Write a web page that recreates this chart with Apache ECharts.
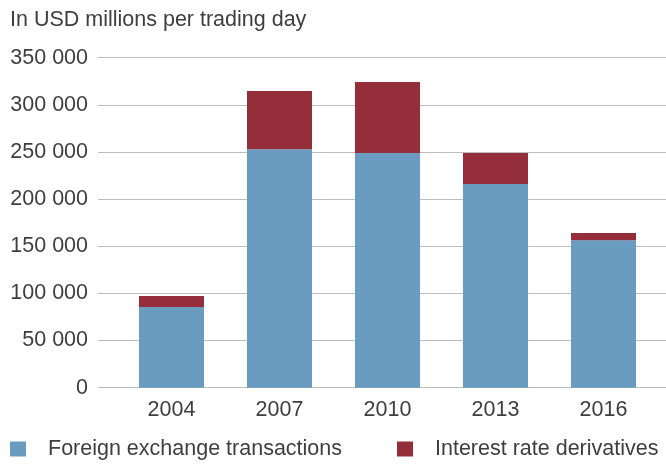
<!DOCTYPE html>
<html>
<head>
<meta charset="utf-8">
<script src="https://cdn.jsdelivr.net/npm/echarts@6/dist/echarts.min.js"></script>
<style>
html,body{margin:0;padding:0;background:#fff;}
#chart{width:666px;height:465px;}
</style>
</head>
<body>
<div id="chart"></div>
<script>
var years = ["2004", "2007", "2010", "2013", "2016"];
var fxValues = [85500, 253000, 249000, 216000, 156500];
var irdValues = [11800, 61700, 75200, 32900, 7600];
var yTicks = { min: 0, max: 350000, step: 50000 };
var seriesNames = ["Foreign exchange transactions", "Interest rate derivatives"];

var FONT = "Liberation Sans";
var FS = 21.5;
var TEXT = "#3e3e3e";
var BLUE = "#6a9bc0";
var RED = "#952e3b";

function fmt(v) {
	return String(v).replace(/\B(?=(\d{3})+(?!\d))/g, " ");
}

var chart = echarts.init(document.getElementById("chart"), null, {renderer: "canvas"});

function legendAt(name, x) {
	return {
		data: [name], left: x, top: 438,
		padding: 0, itemWidth: 16, itemHeight: 15, itemGap: 0,
		icon: "rect",
		textStyle: {fontFamily: FONT, fontSize: FS, color: TEXT, padding: [0, 0, 0, 17]}
	};
}

var option = {
	animation: false,
	backgroundColor: "#fff",
	textStyle: {fontFamily: FONT, color: TEXT},
	title: {
		text: "In USD millions per trading day",
		left: 5, top: 4,
		textStyle: {fontFamily: FONT, fontSize: FS, fontWeight: "normal", color: TEXT}
	},
	legend: [legendAt(seriesNames[0], 10), legendAt(seriesNames[1], 397)],
	grid: [
		{left: 98, right: 0, top: 57.7, bottom: 77.3},
		{left: 117.5, right: 8.5, top: 57.7, bottom: 77.3}
	],
	xAxis: [
		{gridIndex: 0, type: "value", min: 0, max: 1, show: false},
		{
			gridIndex: 1, type: "category", data: years,
			axisLine: {show: false}, axisTick: {show: false},
			axisLabel: {fontFamily: FONT, fontSize: FS, color: TEXT, margin: 11}
		}
	],
	yAxis: [
		{
			gridIndex: 0, type: "value",
			min: yTicks.min, max: yTicks.max, interval: yTicks.step,
			axisLine: {show: false}, axisTick: {show: false},
			axisLabel: {fontFamily: FONT, fontSize: FS, color: TEXT, margin: 10, formatter: fmt},
			splitLine: {lineStyle: {color: "#bdbdbd", width: 1}}
		},
		{
			gridIndex: 1, type: "value",
			min: yTicks.min, max: yTicks.max, interval: yTicks.step,
			show: false, splitLine: {show: false}
		}
	],
	series: [
		{
			name: seriesNames[0], type: "bar", stack: "total",
			xAxisIndex: 1, yAxisIndex: 1, barWidth: 65,
			itemStyle: {color: BLUE}, data: fxValues
		},
		{
			name: seriesNames[1], type: "bar", stack: "total",
			xAxisIndex: 1, yAxisIndex: 1, barWidth: 65,
			itemStyle: {color: RED}, data: irdValues
		}
	]
};

chart.setOption(option);
</script>
</body>
</html>
